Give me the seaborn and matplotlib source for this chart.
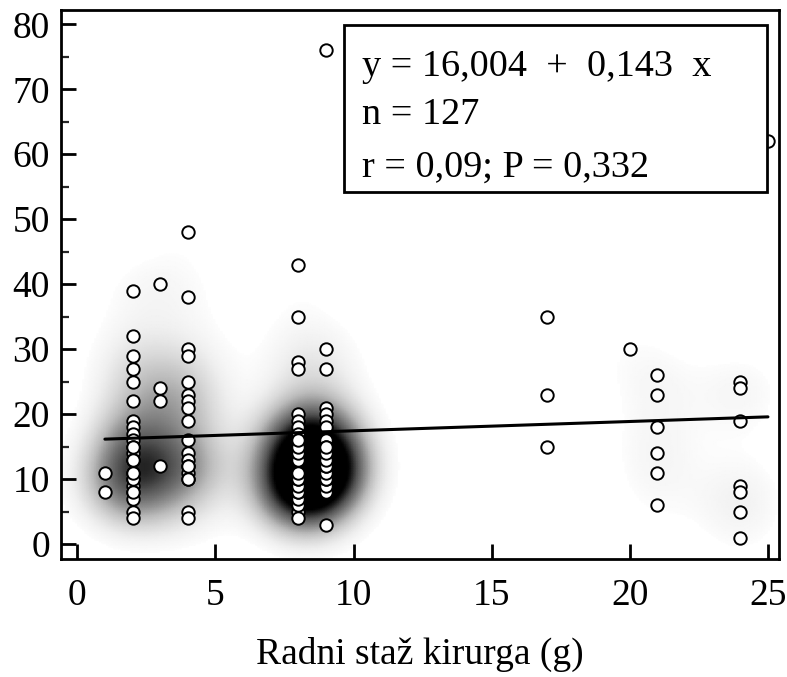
import numpy as np
import pandas as pd
import matplotlib
matplotlib.use("Agg")
import matplotlib.pyplot as plt
import seaborn as sns
from matplotlib.patches import Rectangle

# values, one list per x column (years of surgeon experience)
y_staz_1 = [11, 8]
y_staz_2 = [39, 32, 29, 27, 25, 22, 19, 18, 17, 16, 15, 14, 13, 11, 10, 9, 8, 7, 5, 4]
y_staz_3 = [40, 24, 22, 12]
y_staz_4 = [48, 38, 30, 29, 25, 23, 22, 21, 19, 16, 14, 13, 12, 11, 10, 5, 4]
y_staz_8 = [43, 35, 28, 27, 20, 19, 18, 17, 16, 15, 14, 13, 11, 10, 9, 8, 7, 6, 5, 4]
y_staz_9 = [76, 30, 27, 21, 20, 19, 18, 16, 15, 14, 13, 12, 11, 10, 9, 8, 3]
y_staz_17 = [35, 23, 15]
y_staz_20 = [30]
y_staz_21 = [26, 23, 18, 14, 11, 6]
y_staz_24 = [25, 24, 19, 9, 8, 5, 1]
y_staz_25 = [62]

# n = 127 but only 98 circles are visible: the rest sit on top of visible ones.
# placed where the shading is darkest (estimate)
y_hidden_2 = [8, 10, 11, 13, 15]
y_hidden_4 = [10, 12]
y_hidden_8 = [6, 7, 8, 8, 9, 10, 10, 11, 13, 14, 15, 16]
y_hidden_9 = [8, 9, 10, 10, 11, 12, 12, 13, 14, 15]

staz_values = [1, 2, 3, 4, 8, 9, 17, 20, 21, 24, 25, 2, 4, 8, 9]
y_columns = [y_staz_1, y_staz_2, y_staz_3, y_staz_4, y_staz_8, y_staz_9,
             y_staz_17, y_staz_20, y_staz_21, y_staz_24, y_staz_25,
             y_hidden_2, y_hidden_4, y_hidden_8, y_hidden_9]

# regression reported in the figure
intercept = 16.004
slope = 0.143
stat_lines = ["y = 16,004  +  0,143  x", "n = 127", "r = 0,09; P = 0,332"]

rows = []
for sx, ys in zip(staz_values, y_columns):
    for yv in ys:
        rows.append({"staz": sx, "vrijednost": yv})
df = pd.DataFrame(rows)

sns.set_theme(style="white")
plt.rcParams['font.family'] = ['Liberation Serif', 'DejaVu Serif']

FS = 27
fig = plt.figure(figsize=(7.87, 6.77), dpi=100)
ax = fig.add_axes([61 / 787, 1 - 559 / 677, 718 / 787, 549 / 677])

xlim = (-0.59, 25.4)
ylim = (-2.3, 82.2)

# smoothed density shading behind the points
gx = np.linspace(xlim[0], xlim[1], 300)
gy = np.linspace(ylim[0], ylim[1], 320)
GX, GY = np.meshgrid(gx, gy)
bw_x, bw_y = 1.2, 4.3
dens = np.zeros_like(GX)
for px, py in zip(df["staz"], df["vrijednost"]):
    dens += np.exp(-0.5 * ((GX - px) / bw_x) ** 2 - 0.5 * ((GY - py) / bw_y) ** 2)
top = dens.max()
dens = np.ma.masked_less(dens, 0.05 * top)
ax.pcolormesh(gx, gy, dens, cmap="Greys", vmin=0.04 * top, vmax=0.6 * top,
              shading="gouraud", zorder=0, rasterized=True)

sns.scatterplot(data=df, x="staz", y="vrijednost", ax=ax, marker="o", s=80,
                color="white", edgecolor="black", linewidth=1.4, zorder=3,
                legend=False)

line_x = np.array([df["staz"].min(), df["staz"].max()])
sns.lineplot(x=line_x, y=intercept + slope * line_x, ax=ax, color="black",
             linewidth=2.2, zorder=4)

ax.set_xlim(*xlim)
ax.set_ylim(*ylim)
ax.set_xticks(range(0, 26, 5))
ax.set_yticks(range(0, 81, 10))
ax.set_yticks(range(5, 80, 10), minor=True)
ax.tick_params(axis="both", which="major", direction="in", length=11, width=2,
               labelsize=FS, colors="black", bottom=True, left=True)
ax.tick_params(axis="y", which="minor", direction="in", length=6, width=1.6, left=True)
ax.tick_params(axis="x", pad=14)
ax.tick_params(axis="y", pad=8)
for sp in ax.spines.values():
    sp.set_color("black")
    sp.set_linewidth(2)

ax.set_xlabel("Radni staž kirurga (g)", fontsize=FS, color="black", labelpad=17)
ax.set_ylabel("")

# statistics box
ax.add_patch(Rectangle((0.394, 0.668), 0.589, 0.305, transform=ax.transAxes,
                       facecolor="white", edgecolor="black", linewidth=2, zorder=5))
for line, base in zip(stat_lines, [76, 124, 177]):
    ax.text(0.419, (559 - base) / 549, line, transform=ax.transAxes, fontsize=FS + 0.5,
            va="baseline", ha="left", color="black", zorder=6)

fig.savefig("out.png", dpi=100)
